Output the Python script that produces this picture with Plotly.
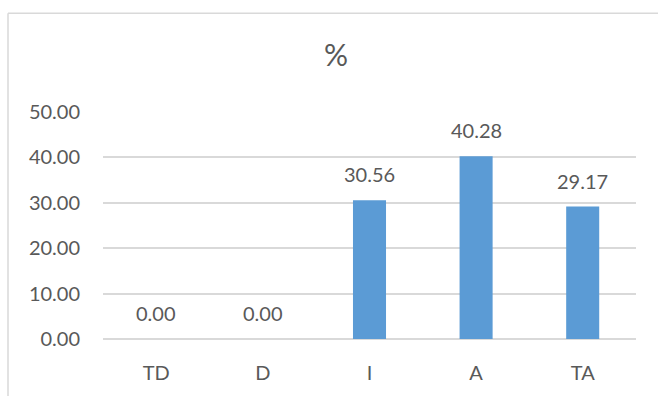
import plotly.graph_objects as go

# Response categories and their share (%)
categories = ["TD", "D", "I", "A", "TA"]
percentages = [0.00, 0.00, 30.56, 40.28, 29.17]
y_ticks = [0, 10, 20, 30, 40, 50]

FONT = "Lato"
TEXT = "#595959"
BAR = "#5b9bd5"
GRID = "#d9d9d9"
FS = 20

W, H = 658, 396
ML, MR, MT, MB = 103, 22, 112, 54
plot_w = W - ML - MR
plot_h = H - MT - MB

fig = go.Figure()
fig.add_trace(go.Bar(
    x=categories,
    y=percentages,
    marker=dict(color=BAR, line=dict(width=0)),
    width=0.31,
    hoverinfo="x+y",
))

# value labels above each bar
for c, v in zip(categories, percentages):
    fig.add_annotation(
        x=c, y=v, text=f"{v:.2f}", showarrow=False,
        xref="x", yref="y", yanchor="middle", yshift=26,
        font=dict(family=FONT, size=FS, color=TEXT),
    )

# chart-area frame (top and left edges)
x0 = (8 - ML) / plot_w
ytop = 1 + (MT - 12) / plot_h
fig.add_shape(type="line", xref="paper", yref="paper",
              x0=x0, x1=1.2, y0=ytop, y1=ytop,
              line=dict(color=GRID, width=1.5))
fig.add_shape(type="line", xref="paper", yref="paper",
              x0=x0, x1=x0, y0=ytop, y1=-0.5,
              line=dict(color=GRID, width=1.5))

fig.update_layout(
    width=W, height=H,
    margin=dict(l=ML, r=MR, t=MT, b=MB, pad=0),
    paper_bgcolor="white", plot_bgcolor="white",
    showlegend=False,
    title=dict(text="%", x=(336 - ML) / plot_w, xref="paper", xanchor="center",
               y=1 - 55 / H, yanchor="middle",
               font=dict(family=FONT, size=30, color=TEXT)),
    font=dict(family=FONT, size=FS, color=TEXT),
    xaxis=dict(showgrid=False, showline=False, zeroline=False,
               tickfont=dict(family=FONT, size=FS, color=TEXT),
               ticklabelstandoff=20),
    yaxis=dict(range=[0, 50], tickvals=y_ticks, tickformat=".2f",
               showgrid=True, gridcolor=GRID, gridwidth=1.5,
               zeroline=True, zerolinecolor=GRID, zerolinewidth=1.5,
               showline=False,
               tickfont=dict(family=FONT, size=FS, color=TEXT),
               ticklabelstandoff=22),
)

fig.write_html("out.html")
